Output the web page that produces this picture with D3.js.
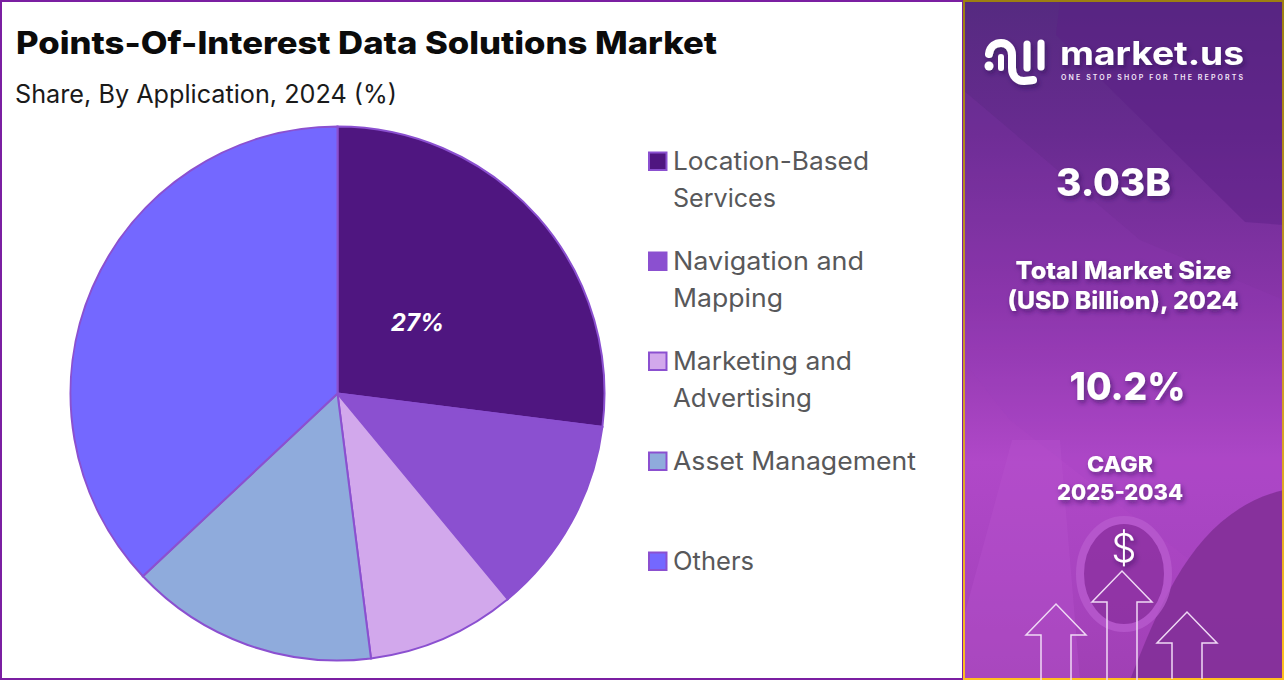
<!DOCTYPE html>
<html>
<head>
<meta charset="utf-8">
<script src="https://cdn.jsdelivr.net/npm/d3@7"></script>
<style>
  html, body { margin:0; padding:0; background:#fff; }
  svg { display:block; }
  text { font-family:Inter, "Noto Sans", sans-serif; }
</style>
</head>
<body>
<svg id="chart" width="1284" height="683"></svg>
<script>
var categories = ['Location-Based Services', 'Navigation and Mapping', 'Marketing and Advertising', 'Asset Management', 'Others'];
var shares = [27, 12, 9, 15, 37];
var sliceColors = ['#4f1680', '#8b50d0', '#d2a8ec', '#8fabdc', '#7468ff'];
var legendLines = [['Location-Based', 'Services'], ['Navigation and', 'Mapping'], ['Marketing and', 'Advertising'], ['Asset Management'], ['Others']];
var legendWidths = [[196, 103], [191, 110], [179, 139], [243], [81]];
var labelled = ['Location-Based Services'];

var svg = d3.select('#chart');
var defs = svg.append('defs');

var grad = defs.append('linearGradient').attr('id', 'panelGrad')
  .attr('x1', 0).attr('y1', 0).attr('x2', 0).attr('y2', 1);
[[0, '#552a80'], [0.2, '#682b90'], [0.45, '#8a35aa'], [0.68, '#b048c8'], [0.85, '#a844c0'], [1, '#a040b4']].forEach(function(s) {
  grad.append('stop').attr('offset', s[0]).attr('stop-color', s[1]);
});

var edge = defs.append('linearGradient').attr('id', 'panelEdge')
  .attr('x1', 0).attr('y1', 0).attr('x2', 0).attr('y2', 1);
[[0, '#9d7f10'], [0.5, '#c9962a'], [1, '#ffc01f']].forEach(function(s) {
  edge.append('stop').attr('offset', s[0]).attr('stop-color', s[1]);
});

var shadow = defs.append('filter').attr('id', 'textShadow')
  .attr('x', '-20%').attr('y', '-30%').attr('width', '140%').attr('height', '170%');
shadow.append('feDropShadow').attr('dx', 2).attr('dy', 3).attr('stdDeviation', 2.5)
  .attr('flood-color', '#2a0a50').attr('flood-opacity', 0.55);

// white card and frame
svg.append('rect').attr('x', 1).attr('y', 1).attr('width', 962).attr('height', 678)
  .attr('fill', '#fff').attr('stroke', '#7b1fa2').attr('stroke-width', 2);

svg.append('text').attr('x', 16).attr('y', 54).attr('textLength', 701).attr('lengthAdjust', 'spacingAndGlyphs')
  .attr('font-size', 31).attr('font-weight', 800).attr('fill', '#0b0b0b')
  .text('Points-Of-Interest  Data Solutions Market');
svg.append('text').attr('x', 15).attr('y', 103).attr('textLength', 382).attr('lengthAdjust', 'spacingAndGlyphs')
  .attr('font-size', 25).attr('font-weight', 400).attr('fill', '#1a1a1a')
  .text('Share, By Application, 2024 (%)');

// pie
var radius = 267;
var pie = d3.pie().sort(null).value(function(d) { return d.share; });
var arc = d3.arc().innerRadius(0).outerRadius(radius);
var pieData = categories.map(function(c, i) { return { name:c, share:shares[i], color:sliceColors[i] }; });
var pieG = svg.append('g').attr('transform', 'translate(337.5,393.5)');

pieG.selectAll('path').data(pie(pieData)).enter().append('path')
  .attr('d', arc)
  .attr('fill', function(d) { return d.data.color; })
  .attr('stroke', '#8b50d0')
  .attr('stroke-width', 2);

pieG.selectAll('text').data(pie(pieData).filter(function(d) { return labelled.indexOf(d.data.name) >= 0; })).enter().append('text')
  .attr('x', 80).attr('y', -63)
  .attr('text-anchor', 'middle')
  .attr('font-size', 24).attr('font-weight', 700).attr('font-style', 'italic').attr('fill', '#fff')
  .text(function(d) { return d.data.share + '%'; });

// legend
var legendY = d3.scalePoint().domain(categories).range([161, 561]);
var legend = svg.append('g').selectAll('g').data(pieData).enter().append('g')
  .attr('transform', function(d) { return 'translate(648,' + legendY(d.name) + ')'; });

legend.append('rect').attr('x', 1).attr('y', -8.5).attr('width', 17.5).attr('height', 17.5)
  .attr('fill', function(d) { return d.color; })
  .attr('stroke', '#8b50d0').attr('stroke-width', 2);

legend.each(function(d, i) {
  var g = d3.select(this);
  legendLines[i].forEach(function(line, j) {
    g.append('text').attr('x', 25).attr('y', 8.5 + j * 37)
      .attr('textLength', legendWidths[i][j]).attr('lengthAdjust', 'spacingAndGlyphs')
      .attr('font-size', 25).attr('font-weight', 400).attr('fill', '#58585a')
      .text(line);
  });
});

// right panel
var panel = svg.append('g');
panel.append('rect').attr('x', 963).attr('y', 0).attr('width', 321).attr('height', 680).attr('fill', 'url(#panelGrad)');

// faint background shapes of the panel photo
panel.append('path').attr('d', 'M1060,2 L1284,2 L1284,60 L1284,225 L1245,222 L1056,35 Z').attr('fill', '#5c1f84').attr('opacity', 0.45);
panel.append('path').attr('d', 'M963,90 L1140,240 L1284,300 L1284,500 L1190,560 L1010,420 L963,360 Z').attr('fill', '#9a3fc0').attr('opacity', 0.14);
panel.append('path').attr('d', 'M1012,440 L1060,440 L1080,680 L963,680 L963,620 Z').attr('fill', '#b752cc').attr('opacity', 0.4);
panel.append('path').attr('d', 'M1130,680 C1165,590 1200,510 1284,490 L1284,680 Z').attr('fill', '#85309a').attr('opacity', 0.95);
panel.append('ellipse').attr('cx', 1124).attr('cy', 574).attr('rx', 44).attr('ry', 54).attr('fill', '#8a2f9e').attr('stroke', '#b95ccf').attr('stroke-width', 8).attr('opacity', 0.75);

panel.append('rect').attr('x', 964).attr('y', 1).attr('width', 319).attr('height', 678)
  .attr('fill', 'none').attr('stroke', 'url(#panelEdge)').attr('stroke-width', 2);

// logo
var logo = panel.append('g').attr('filter', 'url(#textShadow)').attr('fill', 'none')
  .attr('stroke', '#fff').attr('stroke-linecap', 'round');
logo.append('circle').attr('cx', 989).attr('cy', 66).attr('r', 4.5).attr('fill', '#fff').attr('stroke', 'none');
logo.append('path').attr('d', 'M989,54 C990,46 996,43 1001,43 C1008,43 1012,49 1012,55 L1012,68 C1012,77 1018,81 1024,81 L1033,80')
  .attr('stroke-width', 8);
logo.append('path').attr('d', 'M1001,57 L1001,68').attr('stroke-width', 6);
logo.append('path').attr('d', 'M1027,44 L1027,68').attr('stroke-width', 7);
logo.append('path').attr('d', 'M1041,43 L1041,67').attr('stroke-width', 7);

panel.append('text').attr('x', 1060).attr('y', 65).attr('textLength', 184).attr('lengthAdjust', 'spacingAndGlyphs')
  .attr('font-size', 32).attr('font-weight', 700).attr('fill', '#fff').attr('filter', 'url(#textShadow)').text('market.us');
panel.append('text').attr('x', 1061).attr('y', 79.5).attr('textLength', 182)
  .attr('font-size', 7).attr('font-weight', 600).attr('fill', '#f2e6f7').text('ONE STOP SHOP FOR THE REPORTS');

var panelTexts = [
  { t:'3.03B', x:1113.5, y:196, s:38, w:115 },
  { t:'Total Market Size', x:1123.5, y:279, s:24, w:216 },
  { t:'(USD Billion), 2024', x:1123, y:309, s:24, w:231 },
  { t:'10.2%', x:1127.5, y:400, s:38, w:116 },
  { t:'CAGR', x:1120, y:472, s:21, w:66 },
  { t:'2025-2034', x:1120, y:500, s:21, w:126 }
];
panel.selectAll('.stat').data(panelTexts).enter().append('text')
  .attr('class', 'stat')
  .attr('x', function(d) { return d.x; })
  .attr('y', function(d) { return d.y; })
  .attr('text-anchor', 'middle')
  .attr('textLength', function(d) { return d.w; })
  .attr('lengthAdjust', 'spacingAndGlyphs')
  .attr('font-size', function(d) { return d.s; })
  .attr('font-weight', 800)
  .attr('fill', '#fff')
  .attr('filter', 'url(#textShadow)')
  .text(function(d) { return d.t; });

panel.append('text').attr('x', 1124).attr('y', 562).attr('text-anchor', 'middle')
  .attr('font-size', 40).attr('font-weight', 300).attr('fill', '#fff').attr('filter', 'url(#textShadow)').text('$');

// arrows
function arrowPath(cx, top, bottom) {
  return 'M' + (cx - 15) + ',' + bottom + ' L' + (cx - 15) + ',' + (top + 31) + ' L' + (cx - 30) + ',' + (top + 31) +
    ' L' + cx + ',' + top + ' L' + (cx + 30) + ',' + (top + 31) + ' L' + (cx + 15) + ',' + (top + 31) + ' L' + (cx + 15) + ',' + bottom;
}
[[1056, 604, 680], [1122, 571, 680], [1187, 612, 679]].forEach(function(a) {
  panel.append('path').attr('d', arrowPath(a[0], a[1], a[2]))
    .attr('fill', 'none').attr('stroke', '#efd9f5').attr('stroke-width', 1.5);
});
</script>
</body>
</html>
